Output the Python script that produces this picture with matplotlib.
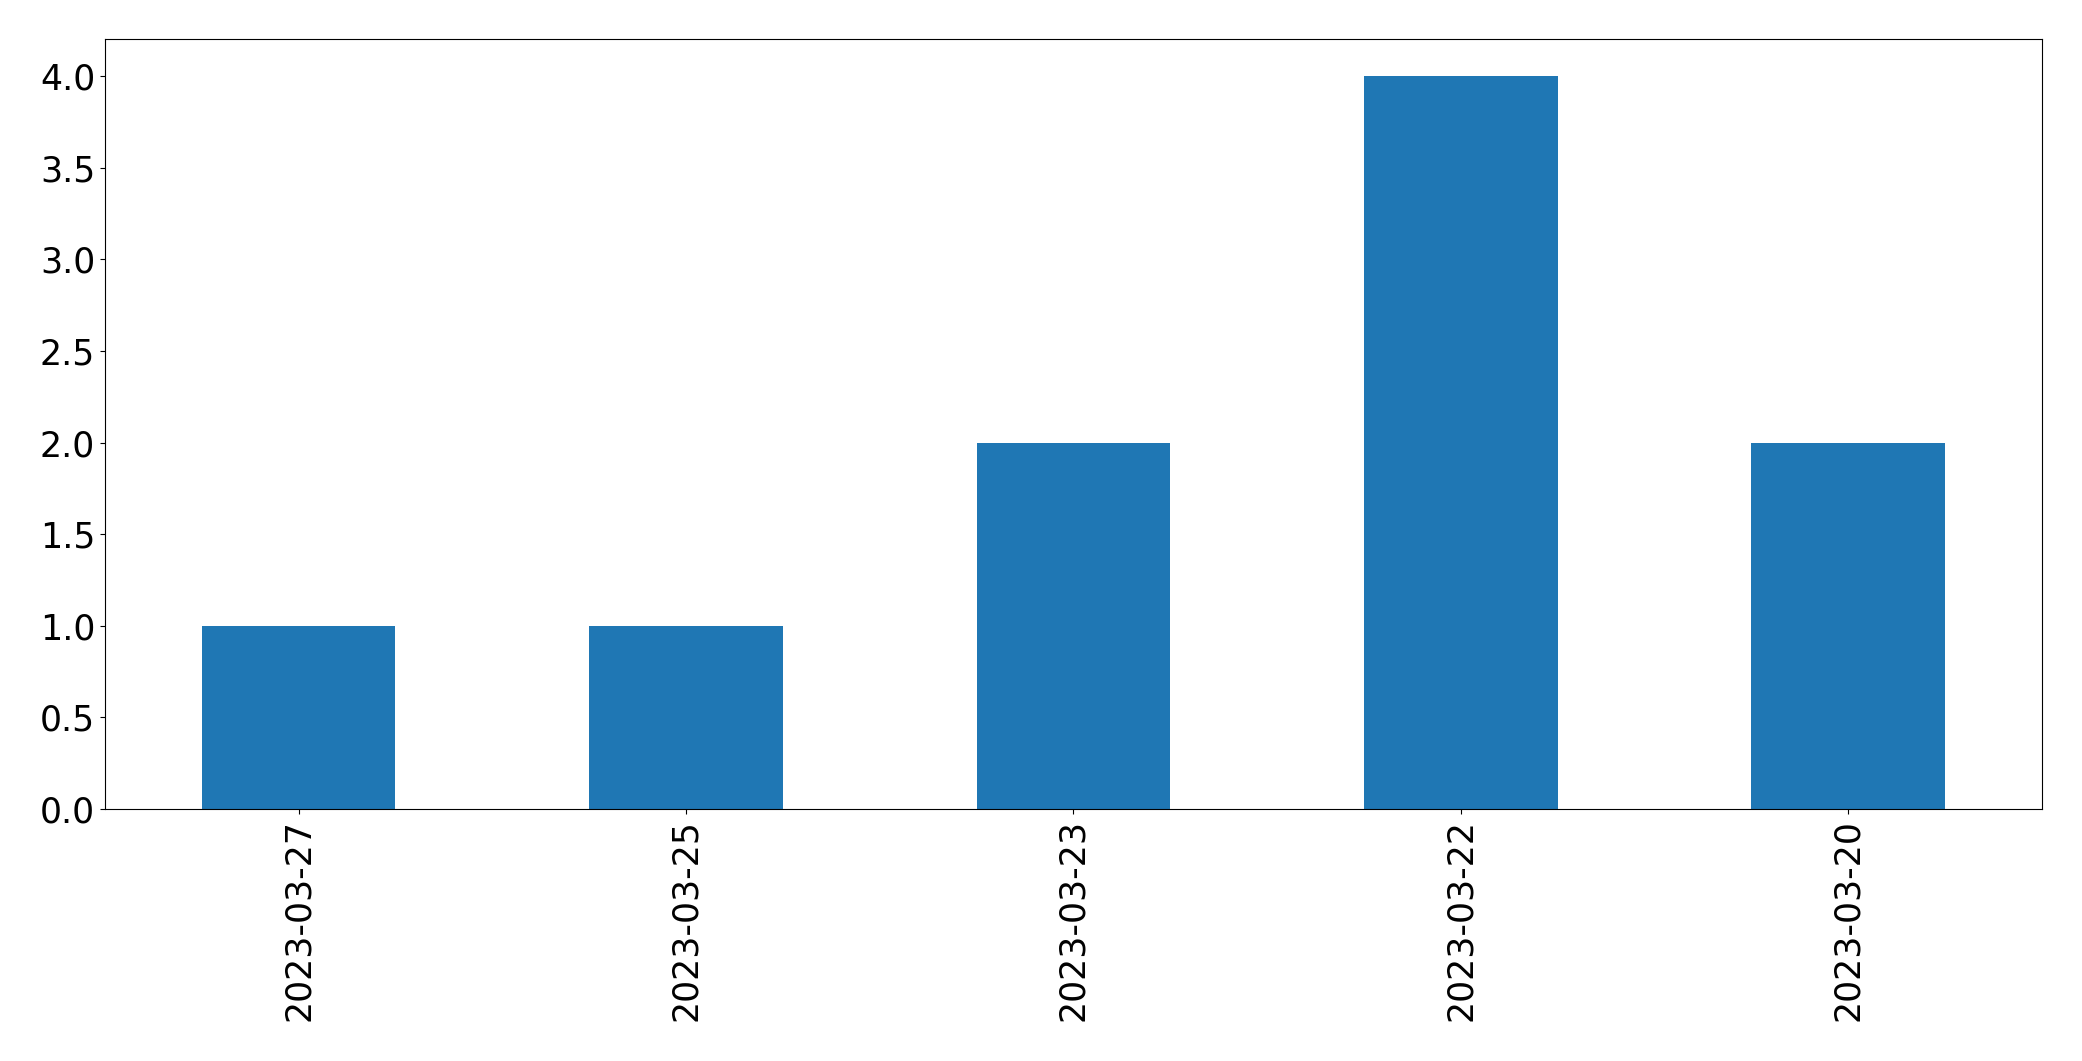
import pandas as pd
import matplotlib
matplotlib.use("Agg")
import matplotlib.pyplot as plt

dates = ["2023-03-27", "2023-03-25", "2023-03-23", "2023-03-22", "2023-03-20"]
counts = [1, 1, 2, 4, 2]


def main():
    s = pd.Series(counts, index=dates)

    fig = plt.figure(figsize=(20.82, 10.61), dpi=100)
    ax = fig.add_axes([0.0504, 0.2375, 0.9304, 0.7253])
    s.plot(kind="bar", ax=ax, color="#1f77b4", fontsize=25)
    ax.tick_params(axis="x", labelrotation=90)

    fig.savefig("out.png", dpi=100)


if __name__ == "__main__":
    main()
